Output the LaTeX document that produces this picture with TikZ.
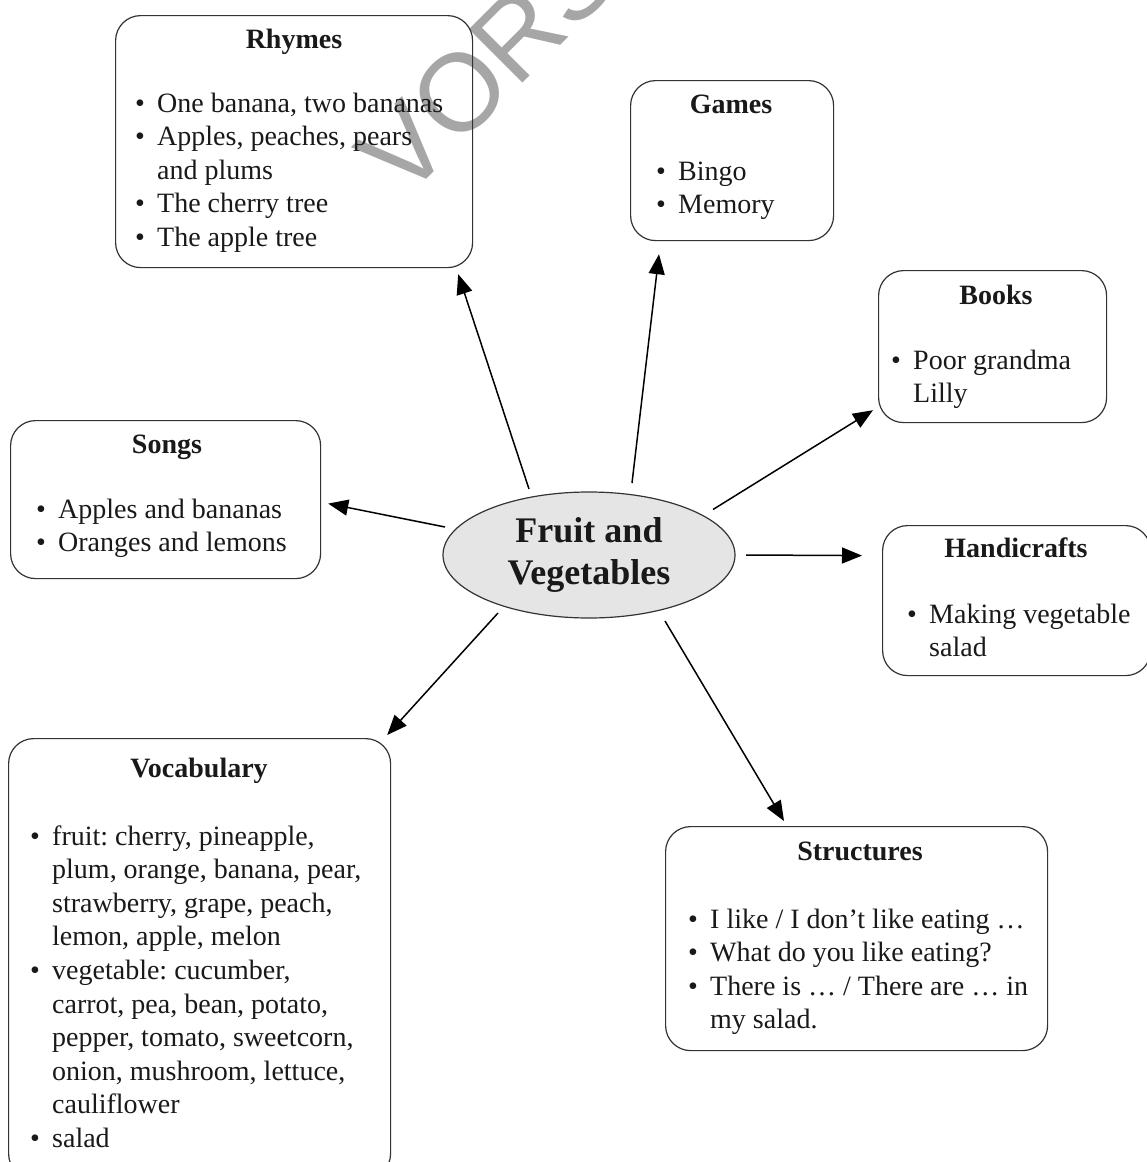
\documentclass[tikz,border=0pt]{standalone}
\usepackage{fontspec}
\setmainfont{Liberation Serif}
\setsansfont{Liberation Sans}
\usetikzlibrary{shapes.geometric,arrows.meta,calc}
\frenchspacing
\newcommand{\itm}{\par\noindent\hangindent=22pt\hangafter=1\makebox[22pt][l]{•}}
\newcommand{\lstbox}[1]{\parbox[t]{420pt}{\raggedright\frenchspacing #1}}
\tikzset{
  box/.style={draw=black!80, line width=1.2pt, rounded corners=25pt, anchor=north west, inner sep=0pt},
  ttl/.style={anchor=base, font=\fontsize{28}{33.6}\selectfont\bfseries, text=black!90, inner sep=0pt},
  lst/.style={anchor=base west, font=\fontsize{28}{33.6}\selectfont, text=black!90, inner sep=0pt},
  arr/.style={-{Triangle[length=20pt,width=16pt]}, line width=1.5pt, black},
}
\begin{document}
\begin{tikzpicture}[x=1pt,y=-1pt]
\useasboundingbox (0,0) rectangle (1147,1162);
\clip (0,0) rectangle (1147,1162);
% watermark
\node[rotate=45, anchor=base west, font=\fontsize{110}{110}\sffamily, text=black!35, inner sep=0pt] (wm) at (404,202) {VORSCHAU};
% boxes
\node[box, minimum width=357pt, minimum height=252pt] (rhymes) at (115,15) {};
\node[box, minimum width=203pt, minimum height=160pt] (games) at (630,80) {};
\node[box, minimum width=228pt, minimum height=152pt] (books) at (878,270) {};
\node[box, minimum width=310pt, minimum height=158pt] (songs) at (10,420) {};
\node[box, minimum width=268pt, minimum height=150pt] (handi) at (882,525) {};
\node[box, minimum width=382pt, minimum height=440pt] (vocab) at (8,738) {};
\node[box, minimum width=382pt, minimum height=224pt] (struct) at (665,826) {};
% centre
\node[ellipse, draw=black!80, line width=1.2pt, fill=black!10, minimum width=292pt, minimum height=126pt, align=center, font=\fontsize{36}{42}\selectfont\bfseries, text=black!90, inner sep=0pt] (c) at (589,555) {Fruit and\\Vegetables};
% titles
\node[ttl] (rhymesT) at (294,48) {Rhymes};
\node[ttl] (gamesT) at (731,113) {Games};
\node[ttl] (booksT) at (996,304) {Books};
\node[ttl] (songsT) at (167,453) {Songs};
\node[ttl] (handiT) at (1016,557) {Handicrafts};
\node[ttl] (vocabT) at (199,777) {Vocabulary};
\node[ttl] (structT) at (860,860) {Structures};
% lists
\node[lst] (rhymesL) at (135,112) {\lstbox{\itm One banana, two bananas\itm Apples, peaches, pears\newline and plums\itm The cherry tree\itm The apple tree}};
\node[lst] (gamesL) at (656,180) {\lstbox{\itm Bingo\itm Memory}};
\node[lst] (booksL) at (891,369) {\lstbox{\itm Poor grandma\newline Lilly}};
\node[lst] (songsL) at (36,518) {\lstbox{\itm Apples and bananas\itm Oranges and lemons}};
\node[lst] (handiL) at (907,623) {\lstbox{\itm Making vegetable\newline salad}};
\node[lst] (vocabL) at (30,845) {\lstbox{\itm fruit: cherry, pineapple,\newline plum, orange, banana, pear,\newline strawberry, grape, peach,\newline lemon, apple, melon\itm vegetable: cucumber,\newline carrot, pea, bean, potato,\newline pepper, tomato, sweetcorn,\newline onion, mushroom, lettuce,\newline cauliflower\itm salad}};
\node[lst] (structL) at (688,928) {\lstbox{\itm I like / I don’t like eating …\itm What do you like eating?\itm There is … / There are … in\newline my salad.}};
% arrows
\draw[arr] ($(c)+(-60,-66)$) -- ($(rhymes.south east)+(-15,6)$);
\draw[arr] ($(c)+(43,-72)$) -- ($(games.south west)+(29,13)$);
\draw[arr] ($(c)+(124,-45.5)$) -- ($(books.south west)+(-5,-13)$);
\draw[arr] ($(c)+(-144,-28)$) -- ($(songs.east)+(7,4)$);
\draw[arr] ($(c)+(157,0)$) -- ($(handi.west)+(-20,-45)$);
\draw[arr] ($(c)+(-91,58)$) -- ($(vocab.north east)+(-4,-3)$);
\draw[arr] ($(c)+(76,66)$) -- ($(struct.north west)+(119,-5)$);
\end{tikzpicture}
\end{document}
